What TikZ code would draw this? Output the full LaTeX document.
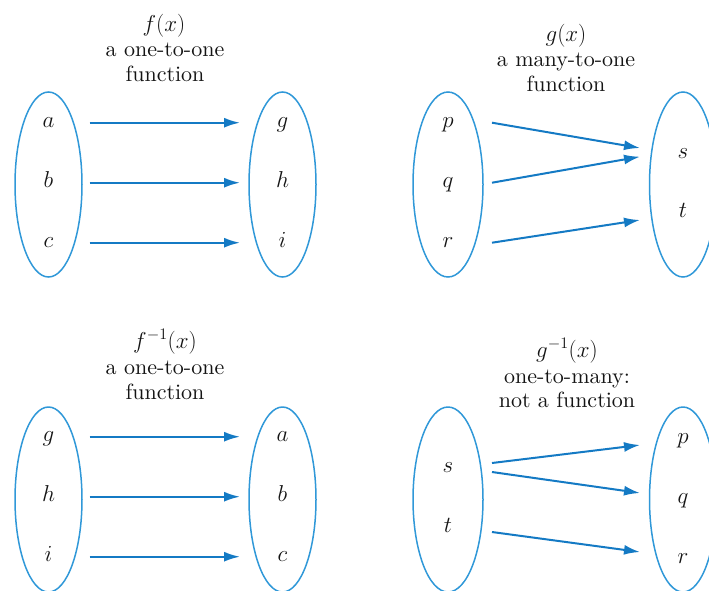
\RequirePackage{fix-cm}
\documentclass[tikz,border=0pt]{standalone}
\usepackage{fontspec}
\setmainfont{lmroman10-regular}[Extension=.otf, ItalicFont=lmroman10-italic, BoldFont=lmroman10-bold]
\usetikzlibrary{shapes.geometric,arrows.meta}
\definecolor{arrblue}{RGB}{20,122,196}
\definecolor{ellblue}{RGB}{48,152,216}
\definecolor{txt}{RGB}{20,20,20}
\begin{document}
\begin{tikzpicture}[x=1pt,y=-1pt,
  setell/.style={draw=ellblue, line width=1.5pt, ellipse, inner sep=0pt, outer sep=0pt, minimum width=67pt, minimum height=185pt},
  elem/.style={anchor=base, inner sep=0pt, text=txt, font=\fontsize{23}{26}\selectfont},
  ttl/.style={anchor=base, inner sep=0pt, text=txt, font=\fontsize{22}{26}\selectfont},
  ttlmath/.style={ttl, font=\fontsize{23}{26}\selectfont},
  maparrow/.style={draw=arrblue, line width=2pt, -{Latex[length=16pt,width=10pt]}}]
\useasboundingbox (0,0) rectangle (709,590);
\clip (0,0) rectangle (709,590);

% ---------- panel 1: f(x) ----------
\node[ttlmath] (t1a) at (164,31) {$f(x)$};
\node[ttl] (t1b) at (165,56) {a one-to-one};
\node[ttl] (t1c) at (165,81) {function};
\node[setell] (d1) at (48.5,184.5) {};
\node[setell] (c1) at (282.5,184.5) {};
\node[elem] (d1a) at (48.5,127.5) {$a$};
\node[elem] (d1b) at (48.5,187.5) {$b$};
\node[elem] (d1c) at (48.5,247.5) {$c$};
\node[elem] (c1g) at (282.5,127.5) {$g$};
\node[elem] (c1h) at (282.5,187.5) {$h$};
\node[elem] (c1i) at (282.5,247.5) {$i$};
\coordinate (s1a) at (89.5,122.7); \coordinate (e1a) at (240,122.7);
\coordinate (s1b) at (89.5,182.7); \coordinate (e1b) at (240,182.7);
\coordinate (s1c) at (89.5,242.7); \coordinate (e1c) at (240,242.7);
\draw[maparrow] (s1a) -- (e1a);
\draw[maparrow] (s1b) -- (e1b);
\draw[maparrow] (s1c) -- (e1c);

% ---------- panel 2: g(x) ----------
\node[ttlmath] (t2a) at (566,41) {$g(x)$};
\node[ttl] (t2b) at (566,66) {a many-to-one};
\node[ttl] (t2c) at (566,91) {function};
\node[setell, minimum width=70pt] (d2) at (448,184.5) {};
\node[setell] (c2) at (683,184.5) {};
\node[elem] (d2p) at (448,127.5) {$p$};
\node[elem] (d2q) at (448,187.5) {$q$};
\node[elem] (d2r) at (448,247.5) {$r$};
\node[elem] (c2s) at (683,158) {$s$};
\node[elem] (c2t) at (683,217) {$t$};
\coordinate (s2p) at (492,122.7); \coordinate (e2p) at (640,148);
\coordinate (s2q) at (492,182.7); \coordinate (e2q) at (640,156.7);
\coordinate (s2r) at (492,242.7); \coordinate (e2r) at (640,220);
\draw[maparrow] (s2p) -- (e2p);
\draw[maparrow] (s2q) -- (e2q);
\draw[maparrow] (s2r) -- (e2r);

% ---------- panel 3: f^{-1}(x) ----------
\node[ttlmath] (t3a) at (165,348) {$f^{-1}(x)$};
\node[ttl] (t3b) at (165,374) {a one-to-one};
\node[ttl] (t3c) at (165,399) {function};
\node[setell] (d3) at (48.5,499.5) {};
\node[setell] (c3) at (282.5,499.5) {};
\node[elem] (d3g) at (48.5,441.5) {$g$};
\node[elem] (d3h) at (48.5,501.5) {$h$};
\node[elem] (d3i) at (48.5,561.5) {$i$};
\node[elem] (c3a) at (282.5,441.5) {$a$};
\node[elem] (c3b) at (282.5,501.5) {$b$};
\node[elem] (c3c) at (282.5,561.5) {$c$};
\coordinate (s3g) at (89.5,436.7); \coordinate (e3g) at (240,436.7);
\coordinate (s3h) at (89.5,496.7); \coordinate (e3h) at (240,496.7);
\coordinate (s3i) at (89.5,556.7); \coordinate (e3i) at (240,556.7);
\draw[maparrow] (s3g) -- (e3g);
\draw[maparrow] (s3h) -- (e3h);
\draw[maparrow] (s3i) -- (e3i);

% ---------- panel 4: g^{-1}(x) ----------
\node[ttlmath] (t4a) at (567,357) {$g^{-1}(x)$};
\node[ttl] (t4b) at (567,383) {one-to-many:};
\node[ttl] (t4c) at (567,407) {not a function};
\node[setell, minimum width=70pt] (d4) at (448,499.5) {};
\node[setell] (c4) at (683,499.5) {};
\node[elem] (d4s) at (448,472) {$s$};
\node[elem] (d4t) at (448,532) {$t$};
\node[elem] (c4p) at (683,443) {$p$};
\node[elem] (c4q) at (683,503) {$q$};
\node[elem] (c4r) at (683,563) {$r$};
\coordinate (s4p) at (492,463); \coordinate (e4p) at (640,445);
\coordinate (s4q) at (492,472); \coordinate (e4q) at (640,493);
\coordinate (s4r) at (492,532); \coordinate (e4r) at (640,552);
\draw[maparrow] (s4p) -- (e4p);
\draw[maparrow] (s4q) -- (e4q);
\draw[maparrow] (s4r) -- (e4r);
\end{tikzpicture}
\end{document}
